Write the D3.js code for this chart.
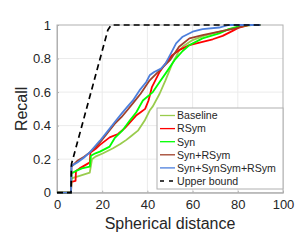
<!DOCTYPE html>
<html><head><meta charset="utf-8">
<script src="https://cdn.jsdelivr.net/npm/d3@7"></script>
<style>body{margin:0;background:#fff;} svg{display:block;font-family:"Liberation Sans",Arial,sans-serif;}</style>
</head><body>
<svg id="c" width="299" height="241"></svg>
<script>
const xTicks = [0, 20, 40, 60, 80, 100];
const yTicks = [0, 0.2, 0.4, 0.6, 0.8, 1];
const seriesNames = ["Baseline", "RSym", "Syn", "Syn+RSym", "Syn+SynSym+RSym", "Upper bound"];
const seriesColors = ["#99cc4d", "#ff0000", "#00ff00", "#a0402a", "#4d7fdc", "#000000"];

const baseline = [[0,0],[6.2,0],[6.4,0.085],[10,0.1],[14.5,0.12],[15.5,0.2],[17,0.215],[20.4,0.235],[24.8,0.265],[28,0.29],[30.7,0.315],[33,0.34],[35.8,0.37],[38.8,0.43],[41,0.49],[42.4,0.515],[45.4,0.59],[48,0.67],[51,0.77],[54.2,0.85],[56,0.875],[60,0.91],[65,0.935],[72,0.96],[78,0.98],[82,0.99],[86,1],[90,1]];
const rsym = [[0,0],[6.2,0],[6.4,0.065],[8.2,0.07],[8.4,0.13],[10,0.145],[13.8,0.175],[14.5,0.18],[14.8,0.24],[17,0.26],[19,0.285],[23.3,0.33],[27,0.35],[30,0.385],[33,0.43],[35,0.46],[37,0.48],[39,0.5],[40.5,0.55],[42,0.63],[45.4,0.72],[48,0.77],[51,0.82],[54,0.85],[58.6,0.88],[64.4,0.9],[68.9,0.915],[73.3,0.935],[77.7,0.965],[80.6,0.985],[85,1],[90,1]];
const syn = [[0,0],[6.2,0],[6.4,0.115],[8.5,0.13],[11,0.145],[14.5,0.155],[15,0.22],[17,0.235],[19,0.245],[23.3,0.275],[25.5,0.325],[29.2,0.375],[32.2,0.43],[35.1,0.48],[38,0.55],[42.4,0.6],[45.4,0.66],[48,0.71],[52,0.79],[55.6,0.845],[58.6,0.88],[64.4,0.92],[71.8,0.95],[76,0.975],[80,0.99],[84,1],[90,1]];
const synRsym = [[0,0],[6.2,0],[6.4,0.155],[9,0.19],[12,0.215],[14.5,0.24],[17,0.27],[19,0.3],[22,0.35],[25.5,0.41],[28.5,0.45],[31,0.49],[34,0.54],[37,0.59],[41,0.67],[44,0.71],[47,0.75],[50,0.79],[54,0.87],[58.6,0.92],[64.4,0.94],[71.8,0.96],[79,0.98],[84,1],[90,1]];
const synSymRsym = [[0,0],[6.2,0],[6.4,0.16],[9,0.18],[12,0.21],[14.5,0.24],[17,0.28],[19,0.31],[22,0.36],[25.5,0.42],[28.5,0.47],[31,0.51],[33.6,0.55],[36.5,0.61],[39.5,0.66],[41,0.7],[43,0.72],[46,0.74],[48,0.77],[50,0.82],[52.7,0.89],[55.6,0.93],[60,0.96],[64.4,0.975],[71.8,0.985],[76,1],[90,1]];
const upperBound = [[0,0],[6.2,0],[6.4,0.17],[22.5,0.97],[24,1],[90,1]];
const seriesData = [baseline, rsym, syn, synRsym, synSymRsym, upperBound];

const svg = d3.select("#c");
const L = 57, R = 283, T = 25, B = 192.7;
const x = d3.scaleLinear().domain([0, 100]).range([L, R]);
const y = d3.scaleLinear().domain([0, 1]).range([B, T]);

// grid
const g = svg.append("g");
g.selectAll("line.gx").data(xTicks.slice(1, -1)).enter().append("line")
  .attr("x1", d => x(d)).attr("x2", d => x(d)).attr("y1", T).attr("y2", B)
  .attr("stroke", "#ebebeb").attr("stroke-width", 1);
g.selectAll("line.gy").data(yTicks.slice(1, -1)).enter().append("line")
  .attr("y1", d => y(d)).attr("y2", d => y(d)).attr("x1", L).attr("x2", R)
  .attr("stroke", "#ebebeb").attr("stroke-width", 1);

// box
svg.append("rect").attr("x", L).attr("y", T).attr("width", R - L).attr("height", B - T)
  .attr("fill", "none").attr("stroke", "#b0b0b0").attr("stroke-width", 1);

// axes
const xAxis = d3.axisBottom(x).tickValues(xTicks).tickSize(-2).tickPadding(7).tickFormat(d3.format("d"));
const yAxis = d3.axisLeft(y).tickValues(yTicks).tickSize(-2).tickPadding(6).tickFormat(d => d === 0 ? "0" : (d === 1 ? "1" : d3.format(".1f")(d)));
const gx = svg.append("g").attr("transform", `translate(0,${B})`).call(xAxis);
const gy = svg.append("g").attr("transform", `translate(${L},0)`).call(yAxis);
[gx, gy].forEach(a => {
  a.select(".domain").attr("stroke", "#b0b0b0");
  a.selectAll(".tick line").attr("stroke", "#b0b0b0");
  a.selectAll(".tick text").attr("fill", "#262626").style("font-size", "13px").style("font-family", "'Liberation Sans',Arial,sans-serif");
});

// lines
const line = d3.line().x(d => x(d[0])).y(d => y(d[1]));
[0, 1, 2, 3, 4, 5].forEach(i => {
  svg.append("path").datum(seriesData[i]).attr("d", line)
    .attr("fill", "none").attr("stroke", seriesColors[i])
    .attr("stroke-width", i === 5 ? 1.7 : 1.8)
    .attr("stroke-dasharray", i === 5 ? "6,4" : null)
    .attr("stroke-linejoin", "round");
});

// labels
svg.append("text").attr("x", (L + R) / 2).attr("y", 229).attr("text-anchor", "middle")
  .attr("fill", "#262626").style("font-size", "16px").text("Spherical distance");
svg.append("text").attr("transform", `translate(27,${(T + B) / 2}) rotate(-90)`).attr("text-anchor", "middle")
  .attr("fill", "#262626").style("font-size", "16px").text("Recall");

// legend
const lg = svg.append("g");
const lx = 157, ly = 108, lw = 126, lh = 81;
lg.append("rect").attr("x", lx).attr("y", ly).attr("width", lw).attr("height", lh)
  .attr("fill", "#fff").attr("stroke", "#b0b0b0").attr("stroke-width", 1);
seriesNames.forEach((n, i) => {
  const yy = 115.5 + i * 13.1;
  lg.append("line").attr("x1", 160).attr("x2", 175).attr("y1", yy).attr("y2", yy)
    .attr("stroke", seriesColors[i]).attr("stroke-width", i === 5 ? 1.6 : 1.3)
    .attr("stroke-dasharray", i === 5 ? "4,5" : null);
  lg.append("text").attr("x", 177).attr("y", yy + 3.8).attr("fill", "#262626")
    .style("font-size", "10.6px").text(n);
});
</script>
</body></html>
